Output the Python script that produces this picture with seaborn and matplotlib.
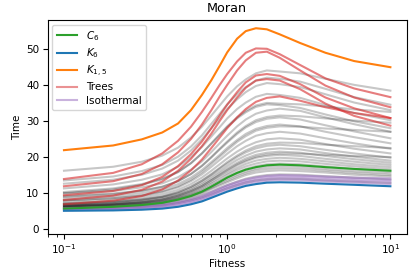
import matplotlib
matplotlib.use('Agg')
import matplotlib.pyplot as plt
from matplotlib.lines import Line2D
import seaborn as sns
import pandas as pd

fitness = [0.1, 0.2, 0.3, 0.4, 0.5, 0.6, 0.7, 0.8, 0.9, 1.0, 1.15, 1.3, 1.5, 1.75, 2.1, 2.8, 4.0, 6.0, 10.0]

c6 = [5.7, 6.2, 6.7, 7.3, 8.2, 9.2, 10.4, 11.8, 13.1, 14.3, 15.6, 16.5, 17.2, 17.7, 17.9, 17.7, 17.2, 16.7, 16.2]
k6 = [5.1, 5.2, 5.4, 5.7, 6.2, 6.9, 7.7, 8.7, 9.6, 10.4, 11.3, 12.0, 12.5, 12.9, 13.0, 12.9, 12.6, 12.3, 11.9]
k15 = [21.9, 23.2, 24.9, 26.8, 29.3, 33.0, 37.2, 41.3, 45.3, 49.0, 52.8, 54.9, 55.7, 55.4, 54.0, 51.6, 48.9, 46.6, 44.9]

trees = [
    [13.9, 15.6, 18.0, 21.0, 24.5, 28.4, 32.5, 36.4, 40.0, 43.0, 46.5, 48.9, 50.1, 50.0, 48.5, 45.5, 41.8, 39.0, 36.6],
    [11.9, 13.3, 15.3, 18.0, 21.3, 25.0, 29.0, 33.0, 36.8, 40.0, 44.0, 46.8, 48.9, 49.2, 47.5, 44.0, 39.8, 36.5, 33.8],
    [9.4, 10.6, 12.2, 14.5, 17.5, 20.8, 24.3, 28.0, 31.5, 34.5, 38.0, 40.7, 42.6, 43.0, 42.5, 40.2, 36.5, 33.5, 30.8],
    [8.1, 9.3, 10.9, 13.2, 16.2, 19.5, 23.0, 26.5, 30.0, 33.0, 36.5, 39.2, 41.2, 41.6, 41.2, 38.8, 34.8, 31.4, 28.7],
    [6.9, 7.9, 9.2, 11.0, 13.5, 16.3, 19.3, 22.5, 25.4, 28.0, 31.0, 33.3, 35.3, 36.4, 36.8, 35.6, 33.8, 32.2, 30.8],
]

isothermal = [
    [5.2, 5.4, 5.6, 6.0, 6.5, 7.2, 8.1, 9.1, 10.1, 10.9, 11.8, 12.5, 13.0, 13.4, 13.6, 13.5, 13.2, 12.9, 12.5],
    [5.4, 5.6, 5.9, 6.3, 6.9, 7.6, 8.5, 9.5, 10.5, 11.4, 12.3, 13.0, 13.5, 13.9, 14.1, 14.0, 13.7, 13.4, 13.1],
    [5.6, 5.8, 6.1, 6.5, 7.2, 7.9, 8.8, 9.9, 10.9, 11.8, 12.7, 13.4, 14.0, 14.4, 14.6, 14.5, 14.2, 13.9, 13.6],
    [5.8, 6.0, 6.3, 6.8, 7.5, 8.3, 9.2, 10.3, 11.3, 12.2, 13.1, 13.8, 14.4, 14.8, 15.0, 14.9, 14.6, 14.3, 14.1],
]

others = [
    [5.6, 5.9, 6.2, 6.6, 7.2, 8.0, 8.8, 9.7, 10.6, 11.3, 12.2, 12.9, 13.5, 13.8, 14.0, 13.9, 13.5, 13.2, 12.8],
    [5.8, 6.1, 6.5, 6.9, 7.6, 8.4, 9.4, 10.4, 11.4, 12.2, 13.2, 14.0, 14.6, 15.0, 15.2, 15.1, 14.7, 14.3, 13.8],
    [6.0, 6.3, 6.7, 7.2, 8.0, 8.9, 9.9, 11.1, 12.1, 13.0, 14.1, 15.0, 15.7, 16.1, 16.3, 16.1, 15.7, 15.1, 14.6],
    [6.1, 6.4, 6.9, 7.4, 8.2, 9.1, 10.2, 11.4, 12.5, 13.4, 14.6, 15.5, 16.3, 16.7, 16.9, 16.7, 16.2, 15.6, 15.0],
    [6.2, 6.5, 7.0, 7.6, 8.4, 9.4, 10.5, 11.7, 12.9, 13.9, 15.1, 16.0, 16.8, 17.3, 17.5, 17.3, 16.7, 16.1, 15.5],
    [6.3, 6.7, 7.1, 7.7, 8.6, 9.6, 10.8, 12.1, 13.3, 14.4, 15.7, 16.7, 17.5, 18.0, 18.2, 18.0, 17.4, 16.7, 16.0],
    [6.4, 6.8, 7.3, 7.9, 8.8, 9.9, 11.2, 12.6, 13.8, 15.0, 16.4, 17.4, 18.2, 18.8, 19.0, 18.8, 18.1, 17.4, 16.6],
    [6.5, 6.9, 7.4, 8.1, 9.0, 10.2, 11.6, 13.0, 14.4, 15.5, 17.0, 18.1, 19.0, 19.5, 19.8, 19.5, 18.8, 18.0, 17.2],
    [6.5, 6.9, 7.5, 8.2, 9.3, 10.6, 12.0, 13.6, 15.1, 16.4, 18.0, 19.1, 20.1, 20.7, 21.0, 20.9, 20.6, 20.3, 20.0],
    [6.6, 7.0, 7.6, 8.3, 9.3, 10.5, 11.9, 13.5, 14.9, 16.1, 17.7, 18.8, 19.8, 20.3, 20.6, 20.3, 19.5, 18.7, 17.8],
    [6.8, 7.2, 7.8, 8.6, 9.6, 10.9, 12.4, 14.0, 15.5, 16.8, 18.4, 19.6, 20.6, 21.2, 21.5, 21.2, 20.3, 19.4, 18.4],
    [7.0, 7.5, 8.1, 8.9, 9.9, 11.3, 12.9, 14.6, 16.1, 17.5, 19.2, 20.4, 21.5, 22.1, 22.4, 22.1, 21.1, 20.1, 19.0],
    [7.0, 7.5, 8.2, 9.0, 10.2, 11.8, 13.5, 15.3, 17.0, 18.6, 20.4, 21.8, 23.0, 23.7, 24.0, 23.9, 23.4, 23.0, 22.5],
    [7.2, 7.7, 8.3, 9.1, 10.3, 11.7, 13.4, 15.1, 16.8, 18.2, 20.0, 21.3, 22.4, 23.1, 23.4, 23.0, 22.0, 21.0, 19.8],
    [7.6, 8.1, 8.8, 9.7, 10.9, 12.5, 14.3, 16.2, 18.0, 19.6, 21.5, 22.9, 24.1, 24.9, 25.2, 24.8, 23.6, 22.3, 21.0],
    [8.0, 8.6, 9.3, 10.3, 11.6, 13.3, 15.2, 17.3, 19.2, 20.9, 23.0, 24.5, 25.9, 26.6, 27.0, 26.5, 25.2, 23.8, 22.3],
    [8.0, 8.6, 9.4, 10.5, 11.9, 13.7, 15.8, 18.1, 20.1, 21.9, 24.2, 25.8, 27.3, 28.1, 28.5, 28.4, 27.9, 27.5, 27.0],
    [8.6, 9.2, 10.0, 11.1, 12.5, 14.3, 16.4, 18.6, 20.6, 22.5, 24.7, 26.4, 27.8, 28.6, 29.0, 28.5, 27.0, 25.5, 23.8],
    [9.0, 9.7, 10.6, 11.7, 13.3, 15.3, 17.6, 20.0, 22.3, 24.3, 26.8, 28.6, 30.2, 31.1, 31.5, 31.3, 30.7, 30.1, 29.5],
    [9.2, 9.9, 10.7, 11.8, 13.3, 15.3, 17.5, 19.9, 22.1, 24.0, 26.4, 28.2, 29.7, 30.6, 31.0, 30.4, 28.8, 27.1, 25.2],
    [9.9, 10.6, 11.6, 12.7, 14.4, 16.5, 18.8, 21.4, 23.8, 25.9, 28.5, 30.4, 32.0, 32.9, 33.4, 32.8, 31.0, 29.1, 27.0],
    [10.0, 11.0, 12.3, 13.8, 15.8, 18.3, 21.0, 23.8, 26.3, 28.5, 31.0, 32.8, 34.3, 35.0, 34.8, 34.6, 34.0, 33.2, 32.5],
    [10.3, 11.3, 12.5, 14.0, 15.9, 18.3, 21.0, 23.7, 26.1, 28.3, 30.7, 32.4, 33.9, 34.6, 34.4, 33.6, 31.8, 29.9, 28.0],
    [11.3, 12.4, 13.7, 15.2, 17.3, 20.0, 22.8, 25.7, 28.3, 30.7, 33.3, 35.1, 36.7, 37.5, 37.2, 36.4, 34.4, 32.2, 30.2],
    [12.6, 13.7, 15.1, 16.8, 19.0, 21.8, 24.9, 28.0, 30.7, 33.3, 36.0, 38.0, 39.7, 40.5, 40.2, 39.4, 37.4, 35.1, 33.0],
    [13.5, 14.6, 16.1, 17.8, 20.1, 22.9, 26.0, 29.2, 32.0, 34.6, 37.4, 39.4, 41.2, 42.0, 41.7, 40.9, 38.9, 36.6, 34.5],
    [16.2, 17.3, 18.7, 20.4, 22.6, 25.4, 28.4, 31.5, 34.3, 36.8, 39.6, 41.5, 43.2, 44.0, 43.7, 43.2, 41.7, 40.0, 38.4],
]


def long_form(curves, name):
    rows = []
    for i, vals in enumerate(curves):
        for f, t in zip(fitness, vals):
            rows.append({'graph': name + str(i), 'Fitness': f, 'Time': t})
    return pd.DataFrame(rows)


plt.rcParams['font.size'] = 7.5
plt.rcParams['xtick.major.pad'] = 2.5
plt.rcParams['ytick.major.pad'] = 2.5
fig, ax = plt.subplots(figsize=(4.18, 2.73), dpi=100)
fig.subplots_adjust(left=0.114, right=0.973, bottom=0.142, top=0.927)
ax.set_xscale('log')

sns.lineplot(data=long_form(others, 'g'), x='Fitness', y='Time', units='graph', estimator=None,
             color='k', alpha=0.22, lw=1.5, ax=ax, legend=False)
sns.lineplot(data=long_form(trees, 't'), x='Fitness', y='Time', units='graph', estimator=None,
             color='tab:red', alpha=0.6, lw=1.5, ax=ax, legend=False)
sns.lineplot(data=long_form(isothermal, 'i'), x='Fitness', y='Time', units='graph', estimator=None,
             color='tab:purple', alpha=0.5, lw=1.5, ax=ax, legend=False)
sns.lineplot(x=fitness, y=c6, color='tab:green', lw=1.5, ax=ax)
sns.lineplot(x=fitness, y=k6, color='tab:blue', lw=1.5, ax=ax)
sns.lineplot(x=fitness, y=k15, color='tab:orange', lw=1.5, ax=ax)

handles = [
    Line2D([], [], color='tab:green', lw=1.5),
    Line2D([], [], color='tab:blue', lw=1.5),
    Line2D([], [], color='tab:orange', lw=1.5),
    Line2D([], [], color='tab:red', alpha=0.5, lw=1.5),
    Line2D([], [], color='tab:purple', alpha=0.5, lw=1.5),
]
labels = ['$C_6$', '$K_6$', '$K_{1,5}$', 'Trees', 'Isothermal']
ax.legend(handles, labels, loc='upper left', labelspacing=0.35, borderaxespad=0.45)

ax.set_xlim(10 ** -1.1, 10 ** 1.1)
ax.set_ylim(-1.4, 58)
ax.set_xlabel('Fitness', labelpad=2)
ax.set_ylabel('Time', labelpad=3)
ax.set_title('Moran', fontsize=9.2)

fig.savefig('out.png', dpi=100)
